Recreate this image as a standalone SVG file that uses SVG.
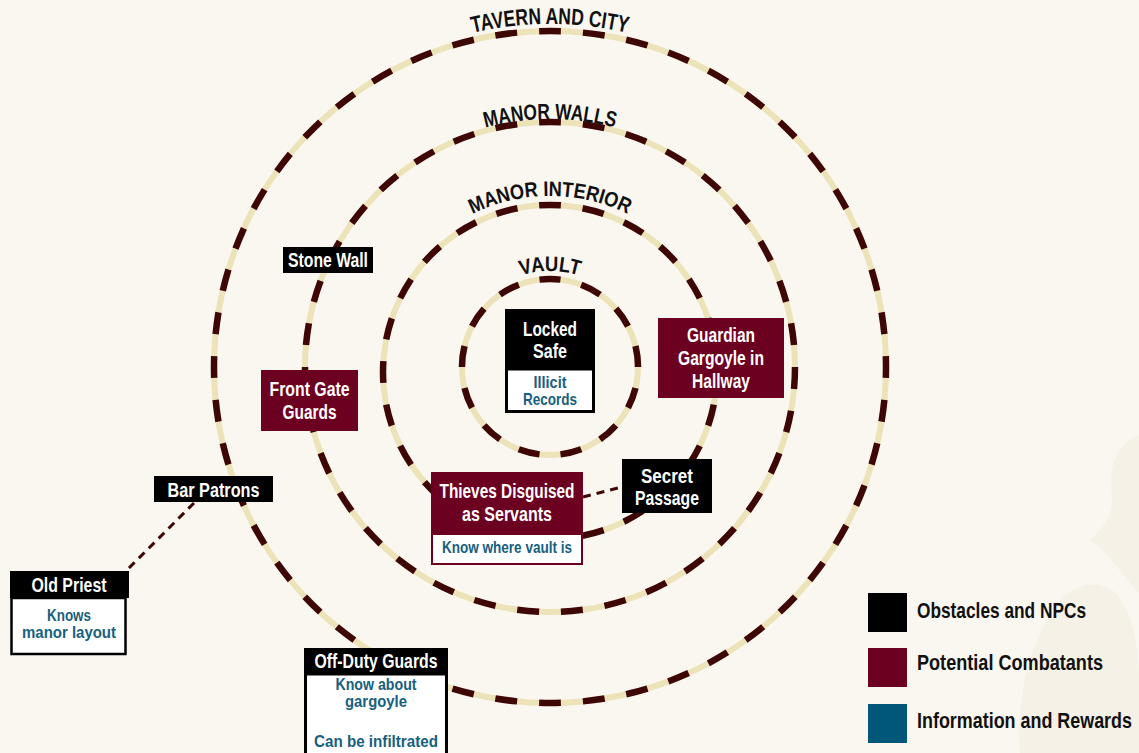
<svg xmlns="http://www.w3.org/2000/svg" width="1139" height="753" viewBox="0 0 1139 753">
<defs>
<style>
.bg{fill:#faf7f0}
.band{fill:none;stroke:#ece3b9;stroke-width:6}
.dash{fill:none;stroke:#3e0706;stroke-width:6.5;stroke-dasharray:2 2;stroke-dashoffset:1}
.ring{font-family:"Liberation Sans",Arial,sans-serif;font-weight:bold;fill:#111;}
.lbl{font-family:"Liberation Sans",Arial,sans-serif;font-weight:bold;font-size:21px;fill:#fff;text-anchor:middle}
.info{font-family:"Liberation Sans",Arial,sans-serif;font-weight:bold;font-size:17px;fill:#17607f;text-anchor:middle}
.leg{font-family:"Liberation Sans",Arial,sans-serif;font-weight:bold;font-size:22px;fill:#111}
.blk{fill:#000}
.mar{fill:#6c0020}
.wht{fill:#fff}
.conn{fill:none;stroke:#3e0706;stroke-width:3;stroke-dasharray:8 6}
.deco{fill:#f5f1e7}
</style>
<path id="arcTavern" d="M 207,367 A 343 343 0 0 1 893,367"/>
<path id="arcWalls" d="M 302,367 A 248 248 0 0 1 798,367"/>
<path id="arcInterior" d="M 374,372 A 176 176 0 0 1 726,372"/>
<path id="arcVault" d="M 454,367 A 96 96 0 0 1 646,367"/>
</defs>
<rect class="bg" x="0" y="0" width="1139" height="753"/>
<g id="decoration">
<path class="deco" d="M1139,435 C1115,445 1108,470 1112,495 C1114,520 1100,530 1090,540 C1105,550 1120,570 1135,590 L1139,592 Z"/>
<path class="deco" d="M1060,600 C1075,585 1095,580 1112,590 C1130,605 1139,640 1139,680 L1139,753 L1020,753 C1015,700 1030,640 1060,600 Z"/>
</g>
<g id="rings">
<circle class="band" cx="550" cy="367" r="336"/>
<path class="dash" pathLength="192" d="M550,31 A336 336 0 1 1 550,703 A336 336 0 1 1 550,31"/>
<circle class="band" cx="550" cy="367" r="245"/>
<path class="dash" pathLength="140" d="M550,122 A245 245 0 1 1 550,612 A245 245 0 1 1 550,122"/>
<circle class="band" cx="550" cy="372" r="167"/>
<path class="dash" pathLength="96" d="M550,205 A167 167 0 1 1 550,539 A167 167 0 1 1 550,205"/>
<circle class="band" cx="550" cy="367" r="88"/>
<path class="dash" pathLength="52" d="M550,279 A88 88 0 1 1 550,455 A88 88 0 1 1 550,279"/>
<text class="ring" font-size="23"><textPath href="#arcTavern" startOffset="50%" text-anchor="middle" textLength="156" lengthAdjust="spacingAndGlyphs">TAVERN AND CITY</textPath></text>
<text class="ring" font-size="22"><textPath href="#arcWalls" startOffset="50%" text-anchor="middle" textLength="131" lengthAdjust="spacingAndGlyphs">MANOR WALLS</textPath></text>
<text class="ring" font-size="21"><textPath href="#arcInterior" startOffset="50%" text-anchor="middle" textLength="161" lengthAdjust="spacingAndGlyphs">MANOR INTERIOR</textPath></text>
<text class="ring" font-size="21"><textPath href="#arcVault" startOffset="50%" text-anchor="middle" textLength="59" lengthAdjust="spacingAndGlyphs">VAULT</textPath></text>
</g>
<g id="connectors">
<line class="conn" x1="194" y1="503" x2="126" y2="571"/>
<line class="conn" x1="583" y1="497" x2="622" y2="487"/>
</g>
<g id="stone-wall">
<rect class="blk" x="283" y="247" width="90" height="26"/>
<text class="lbl" x="328" y="267" textLength="80" lengthAdjust="spacingAndGlyphs">Stone Wall</text>
</g>
<g id="front-gate-guards">
<rect class="mar" x="261" y="370" width="97" height="61"/>
<text class="lbl" x="309.5" y="396" textLength="80" lengthAdjust="spacingAndGlyphs">Front Gate</text>
<text class="lbl" x="309.5" y="419" textLength="54" lengthAdjust="spacingAndGlyphs">Guards</text>
</g>
<g id="locked-safe">
<rect class="blk" x="505" y="309" width="90" height="60"/>
<rect class="wht" x="506.5" y="369" width="87" height="42.5" stroke="#000" stroke-width="3"/>
<text class="lbl" x="550" y="336" textLength="54" lengthAdjust="spacingAndGlyphs">Locked</text>
<text class="lbl" x="550" y="358" textLength="34" lengthAdjust="spacingAndGlyphs">Safe</text>
<text class="info" x="550" y="388" textLength="33" lengthAdjust="spacingAndGlyphs">Illicit</text>
<text class="info" x="550" y="405" textLength="54" lengthAdjust="spacingAndGlyphs">Records</text>
</g>
<g id="guardian-gargoyle">
<rect class="mar" x="658" y="318" width="126" height="80"/>
<text class="lbl" x="721" y="342" textLength="68" lengthAdjust="spacingAndGlyphs">Guardian</text>
<text class="lbl" x="721" y="365" textLength="86" lengthAdjust="spacingAndGlyphs">Gargoyle in</text>
<text class="lbl" x="721" y="388" textLength="58" lengthAdjust="spacingAndGlyphs">Hallway</text>
</g>
<g id="thieves">
<rect class="mar" x="431" y="472" width="152" height="62"/>
<rect class="wht" x="432" y="534" width="150" height="30" stroke="#6c0020" stroke-width="2"/>
<text class="lbl" x="507" y="498" textLength="135" lengthAdjust="spacingAndGlyphs">Thieves Disguised</text>
<text class="lbl" x="507" y="521" textLength="90" lengthAdjust="spacingAndGlyphs">as Servants</text>
<text class="info" x="507" y="553" font-size="18" textLength="130" lengthAdjust="spacingAndGlyphs">Know where vault is</text>
</g>
<g id="secret-passage">
<rect class="blk" x="622" y="459" width="90" height="54"/>
<text class="lbl" x="667" y="483" textLength="52" lengthAdjust="spacingAndGlyphs">Secret</text>
<text class="lbl" x="667" y="505" textLength="64" lengthAdjust="spacingAndGlyphs">Passage</text>
</g>
<g id="bar-patrons">
<rect class="blk" x="154" y="476" width="119" height="26"/>
<text class="lbl" x="213.5" y="497" textLength="92" lengthAdjust="spacingAndGlyphs">Bar Patrons</text>
</g>
<g id="old-priest">
<rect class="blk" x="10" y="571" width="119" height="27"/>
<rect class="wht" x="11.5" y="598" width="114" height="56" stroke="#000" stroke-width="2.5"/>
<text class="lbl" x="69" y="592" textLength="75" lengthAdjust="spacingAndGlyphs">Old Priest</text>
<text class="info" x="69" y="621" textLength="44" lengthAdjust="spacingAndGlyphs">Knows</text>
<text class="info" x="69" y="638" textLength="94" lengthAdjust="spacingAndGlyphs">manor layout</text>
</g>
<g id="off-duty-guards">
<rect class="blk" x="304" y="648" width="144" height="26"/>
<rect class="wht" x="305.5" y="674" width="141" height="90" stroke="#000" stroke-width="3"/>
<text class="lbl" x="376" y="668" textLength="123" lengthAdjust="spacingAndGlyphs">Off-Duty Guards</text>
<text class="info" x="376" y="690" textLength="81" lengthAdjust="spacingAndGlyphs">Know about</text>
<text class="info" x="376" y="707" textLength="62" lengthAdjust="spacingAndGlyphs">gargoyle</text>
<text class="info" x="376" y="747" textLength="124" lengthAdjust="spacingAndGlyphs">Can be infiltrated</text>
</g>
<g id="legend">
<rect class="blk" x="868" y="593" width="39" height="39"/>
<rect class="mar" x="868" y="648" width="39" height="39"/>
<rect x="868" y="704" width="39" height="39" fill="#00577a"/>
<text class="leg" x="917" y="618" textLength="169" lengthAdjust="spacingAndGlyphs">Obstacles and NPCs</text>
<text class="leg" x="917" y="670" textLength="186" lengthAdjust="spacingAndGlyphs">Potential Combatants</text>
<text class="leg" x="917" y="728" textLength="215" lengthAdjust="spacingAndGlyphs">Information and Rewards</text>
</g>
</svg>
